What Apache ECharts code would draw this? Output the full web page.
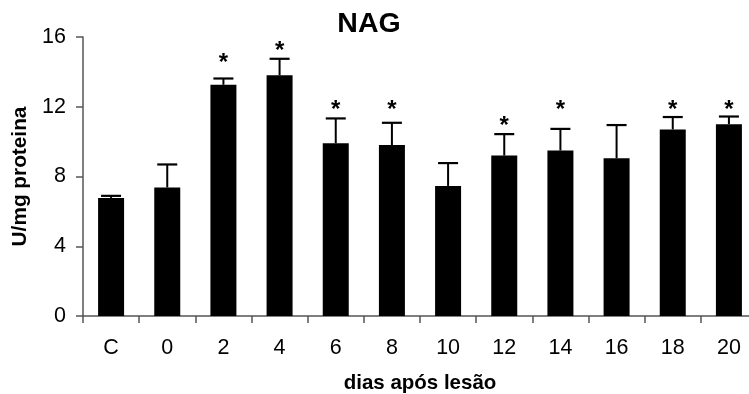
<!DOCTYPE html>
<html>
<head>
<meta charset="utf-8">
<script src="https://cdn.jsdelivr.net/npm/echarts@6/dist/echarts.min.js"></script>
<style>html,body{margin:0;padding:0;background:#fff}#c{width:749px;height:394px}</style>
</head>
<body>
<div id="c"></div>
<script>
var categories = ['C','0','2','4','6','8','10','12','14','16','18','20'];
var means = [6.77,7.37,13.26,13.80,9.91,9.80,7.46,9.20,9.49,9.05,10.70,11.00];
var sds = [0.12,1.32,0.36,0.95,1.42,1.28,1.31,1.23,1.24,1.90,0.71,0.44];
var starY = [null,null,14.8,15.45,12.1,12.1,null,11.15,12.1,null,12.1,12.1];
var yTicks = [0,4,8,12,16];

var FONT = "'Liberation Sans', Arial, sans-serif";
var chart = echarts.init(document.getElementById('c'), null, {renderer:'canvas'});
var errData = categories.map(function(c,i){ return [i, means[i], means[i]+sds[i], starY[i]]; });

chart.setOption({
  animation:false,
  backgroundColor:'#fff',
  title:{text:'NAG', left:364, top:5, textAlign:'center',
    textStyle:{fontFamily:FONT, fontWeight:'bold', fontSize:28.5, color:'#000'}},
  grid:{left:83, right:-8, top:37, bottom:78, containLabel:false, outerBoundsMode:'none'},
  xAxis:{type:'category', data:categories, boundaryGap:true,
    name:'dias após lesão', nameLocation:'middle', nameGap:57,
    nameTextStyle:{fontFamily:FONT, fontWeight:'bold', fontSize:20.5, color:'#000'},
    axisLine:{lineStyle:{color:'#555', width:1.5}},
    axisTick:{show:true, alignWithLabel:false, length:7, lineStyle:{color:'#555', width:1.5}},
    axisLabel:{fontFamily:FONT, fontSize:21.5, color:'#000', margin:21}
  },
  yAxis:{type:'value', min:0, max:16, interval:4,
    name:'U/mg proteina', nameLocation:'middle', nameGap:50, nameRotate:90,
    nameTextStyle:{fontFamily:FONT, fontWeight:'bold', fontSize:20.8, color:'#000'},
    axisLine:{show:true, lineStyle:{color:'#555', width:1.5}},
    axisTick:{show:true, length:7, lineStyle:{color:'#555', width:1.5}},
    axisLabel:{fontFamily:FONT, fontSize:21.5, color:'#000', margin:17,
      formatter:function(v){ return yTicks.indexOf(v)>=0 ? String(v) : ''; }},
    splitLine:{show:false}
  },
  series:[
    {type:'bar', data:means, barWidth:26, itemStyle:{color:'#000'}, z:2},
    {type:'custom', data:errData, z:3,
      renderItem:function(params, api){
        var x = api.value(0);
        var base = api.coord([x, api.value(1)]);
        var top = api.coord([x, api.value(2)]);
        var children = [
          {type:'line', shape:{x1:base[0], y1:base[1], x2:top[0], y2:top[1]}, style:{stroke:'#000', lineWidth:2}},
          {type:'line', shape:{x1:top[0]-10, y1:top[1], x2:top[0]+10, y2:top[1]}, style:{stroke:'#000', lineWidth:2.2}}
        ];
        var sy = api.value(3);
        if (sy !== null && sy !== undefined && !isNaN(sy)) {
          var sp = api.coord([x, sy]);
          children.push({type:'text', style:{text:'*', x:sp[0], y:sp[1]+5, textAlign:'center', textVerticalAlign:'middle',
            font:'bold 24px ' + FONT, fill:'#000'}});
        }
        return {type:'group', children:children};
      }
    }
  ]
});
</script>
</body>
</html>
